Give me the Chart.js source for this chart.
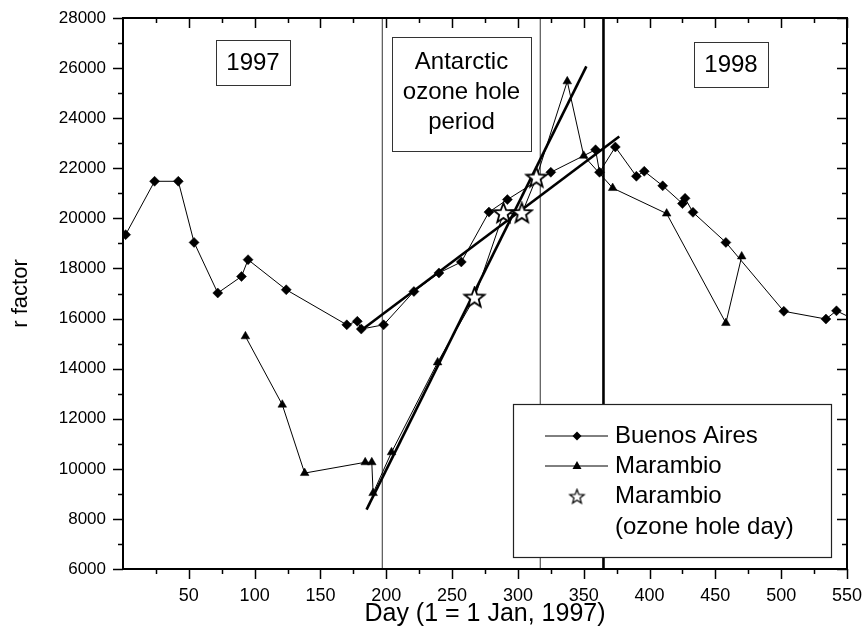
<!DOCTYPE html>
<html>
<head>
<meta charset="utf-8">
<script src="https://cdn.jsdelivr.net/npm/chart.js@4"></script>
<style>
  html, body { margin: 0; padding: 0; background: #fff; }
  #wrap { width: 866px; height: 639px; }
</style>
</head>
<body>
<div id="wrap"><canvas id="rChart" width="866" height="639"></canvas></div>
<script>
// Buenos Aires
const baDays = [2, 24, 42, 54, 72, 90, 95, 124, 170, 178, 181, 198, 221, 240, 257, 278, 292, 325, 359, 362, 374, 390, 396, 410, 425, 427, 433, 458, 502, 534, 542, 556];
const baValues = [19350, 21480, 21480, 19040, 17020, 17680, 18350, 17150, 15750, 15890, 15580, 15750, 17080, 17820, 18260, 20250, 20750, 21840, 22740, 21840, 22850, 21680, 21880, 21300, 20590, 20800, 20240, 19040, 16290, 15980, 16310, 15950];

// Marambio (days inside the ozone hole get the star marker)
const marDays = [93, 121, 138, 184, 189, 190, 204, 239, 267, 289, 303, 314, 337.5, 350, 372, 413, 458, 470];
const marValues = [15290, 12560, 9830, 10260, 10260, 9030, 10660, 14250, 16820, 20190, 20190, 21610, 25470, 22500, 21210, 20190, 15820, 18480];
const ozoneHoleDays = [267, 289, 303, 314];

// straight-line fits
const baFitDays = [180, 377];
const baFitValues = [15490, 23270];
const marFitDays = [185, 352];
const marFitValues = [8370, 26070];

// period markers
const holeStart = 197;
const holeEnd = 317;
const yearEnd = 365;

const yMin = 6000, yMax = 28000;
const xTicks = [50, 100, 150, 200, 250, 300, 350, 400, 450, 500, 550];

const FONT = '"Liberation Sans", Arial, sans-serif';

function pts(xs, ys) {
    return xs.map((x, i) => ({ x: x, y: ys[i] }));
}

function makeStar(r, lw) {
    const c = document.createElement('canvas');
    const s = Math.ceil(r * 2 + 4);
    c.width = s; c.height = s;
    const g = c.getContext('2d');
    g.beginPath();
    for (let i = 0; i < 10; i++) {
        const rr = i % 2 ? r * 0.42 : r;
        const a = -Math.PI / 2 + i * Math.PI / 5;
        g.lineTo(s / 2 + rr * Math.cos(a), s / 2 + rr * Math.sin(a));
    }
    g.closePath();
    g.fillStyle = '#fff';
    g.fill();
    g.lineWidth = lw;
    g.strokeStyle = '#000';
    g.stroke();
    return c;
}
const bigStar = makeStar(10.5, 1.8);
const smallStar = makeStar(7.5, 1.2);

function vline(day, width, color) {
    return {
        data: pts([day, day], [yMin, yMax]),
        borderColor: color, borderWidth: width,
        pointRadius: 0, showLine: true
    };
}

// frame, ticks on all four sides, text boxes and the legend
const decor = {
    id: 'decor',
    afterDatasetsDraw(chart) {
        const ctx = chart.ctx;
        const a = chart.chartArea;
        const xs = chart.scales.x, ys = chart.scales.y;
        ctx.save();

        // text boxes
        ctx.font = '24px ' + FONT;
        ctx.textAlign = 'center';
        ctx.textBaseline = 'middle';
        const boxes = [
            { r: [216, 40, 74, 45], lines: ['1997'], y0: 63 },
            { r: [392, 37, 139, 114], lines: ['Antarctic', 'ozone hole', 'period'], y0: 62 },
            { r: [694, 42, 74, 45], lines: ['1998'], y0: 65 }
        ];
        boxes.forEach(b => {
            ctx.fillStyle = '#fff';
            ctx.fillRect(b.r[0], b.r[1], b.r[2], b.r[3]);
            ctx.strokeStyle = '#333';
            ctx.lineWidth = 1;
            ctx.strokeRect(b.r[0] + 0.5, b.r[1] + 0.5, b.r[2], b.r[3]);
            ctx.fillStyle = '#000';
            b.lines.forEach((t, i) => ctx.fillText(t, b.r[0] + b.r[2] / 2, b.y0 + i * 30));
        });

        // legend
        ctx.fillStyle = '#fff';
        ctx.fillRect(513, 404, 318, 153);
        ctx.strokeStyle = '#222';
        ctx.lineWidth = 1.2;
        ctx.strokeRect(513.5, 404.5, 318, 153);
        ctx.lineWidth = 1;
        ctx.strokeStyle = '#000';
        ctx.fillStyle = '#000';
        [436, 466].forEach(y => {
            ctx.beginPath(); ctx.moveTo(545, y); ctx.lineTo(608, y); ctx.stroke();
        });
        ctx.beginPath();
        ctx.moveTo(577, 431.5); ctx.lineTo(581.5, 436); ctx.lineTo(577, 440.5); ctx.lineTo(572.5, 436);
        ctx.closePath(); ctx.fill();
        ctx.beginPath();
        ctx.moveTo(577, 461); ctx.lineTo(581.5, 469); ctx.lineTo(572.5, 469);
        ctx.closePath(); ctx.fill();
        ctx.drawImage(smallStar, 577 - smallStar.width / 2, 497 - smallStar.height / 2);
        ctx.textAlign = 'left';
        ['Buenos Aires', 'Marambio', 'Marambio', '(ozone hole day)'].forEach((t, i) => {
            ctx.fillText(t, 615, 436 + i * 30.3);
        });

        // frame
        ctx.strokeStyle = '#000';
        ctx.lineWidth = 2;
        ctx.strokeRect(a.left, a.top, a.right - a.left, a.bottom - a.top);

        // ticks: outward on left/bottom, inward on top/right
        ctx.lineWidth = 1.5;
        ctx.beginPath();
        for (let d = 25; d <= 550; d += 25) {
            const px = Math.round(xs.getPixelForValue(d)) + 0.5;
            const len = d % 50 === 0 ? 10 : 5;
            ctx.moveTo(px, a.bottom); ctx.lineTo(px, a.bottom + len);
            ctx.moveTo(px, a.top); ctx.lineTo(px, a.top + len);
        }
        for (let v = yMin; v <= yMax; v += 1000) {
            const py = Math.round(ys.getPixelForValue(v)) + 0.5;
            const len = v % 2000 === 0 ? 10 : 5;
            ctx.moveTo(a.left, py); ctx.lineTo(a.left - len, py);
            ctx.moveTo(a.right, py); ctx.lineTo(a.right - len, py);
        }
        ctx.stroke();
        ctx.restore();
    }
};

new Chart(document.getElementById('rChart'), {
    type: 'scatter',
    data: {
        datasets: [
            {
                label: 'Marambio',
                data: pts(marDays, marValues),
                showLine: true,
                borderColor: '#000', borderWidth: 1,
                backgroundColor: '#000',
                pointStyle: c => ozoneHoleDays.includes(marDays[c.dataIndex]) ? bigStar : 'triangle',
                pointRadius: 5, pointBorderWidth: 0.5,
                pointBackgroundColor: '#000', pointBorderColor: '#000'
            },
            {
                label: 'Buenos Aires',
                data: pts(baDays, baValues),
                showLine: true,
                borderColor: '#000', borderWidth: 1,
                pointStyle: 'rectRot',
                pointRadius: 5, pointBorderWidth: 0.5,
                pointBackgroundColor: '#000', pointBorderColor: '#000'
            },
            {
                label: 'Buenos Aires fit',
                data: pts(baFitDays, baFitValues),
                showLine: true, borderColor: '#000', borderWidth: 2.6, pointRadius: 0
            },
            {
                label: 'Marambio fit',
                data: pts(marFitDays, marFitValues),
                showLine: true, borderColor: '#000', borderWidth: 2.6, pointRadius: 0
            },
            vline(holeStart, 1.2, '#555'),
            vline(holeEnd, 1.2, '#555'),
            vline(yearEnd, 2.6, '#000')
        ]
    },
    options: {
        responsive: false,
        animation: false,
        layout: { padding: { left: 0, right: 19, top: 18, bottom: 0 } },
        elements: { line: { tension: 0 } },
        plugins: {
            legend: { display: false },
            tooltip: { enabled: false }
        },
        scales: {
            x: {
                type: 'linear',
                min: 0, max: 550,
                afterFit: s => { s.height = 70; s.paddingLeft = 0; s.paddingRight = 0; },
                afterBuildTicks: s => { s.ticks = xTicks.map(v => ({ value: v })); },
                grid: { display: false, drawTicks: false },
                border: { display: false },
                ticks: {
                    color: '#000', padding: 16, maxRotation: 0,
                    font: { family: FONT, size: 18 },
                    callback: v => String(v)
                },
                title: {
                    display: true, text: 'Day (1 = 1 Jan, 1997)', color: '#000',
                    font: { family: FONT, size: 25 }, padding: { top: 0, bottom: 10 }
                }
            },
            y: {
                min: yMin, max: yMax,
                afterFit: s => { s.width = 123; s.paddingTop = 0; s.paddingBottom = 0; },
                grid: { display: false, drawTicks: false },
                border: { display: false },
                ticks: {
                    color: '#000', padding: 17, stepSize: 2000,
                    font: { family: FONT, size: 17 },
                    callback: v => String(v)
                },
                title: {
                    display: true, text: 'r factor', color: '#000',
                    font: { family: FONT, size: 22 }, padding: { top: 8, bottom: 0 }
                }
            }
        }
    },
    plugins: [decor]
});
</script>
</body>
</html>
